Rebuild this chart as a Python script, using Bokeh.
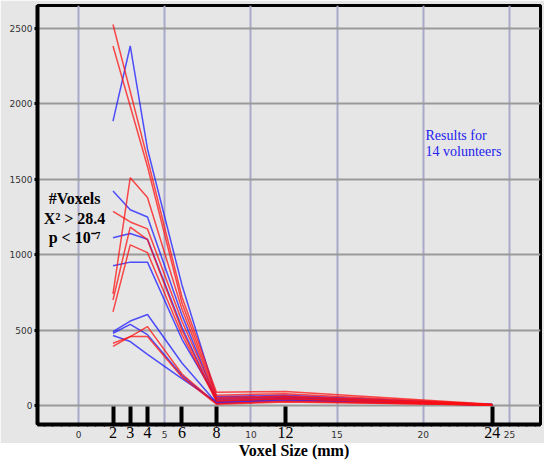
from bokeh.plotting import figure
from bokeh.models import FixedTicker, Label, Range1d, Div, LinearAxis
from bokeh.layouts import column
from bokeh.embed import file_html
from bokeh.resources import INLINE

# ---- data ----
voxel_sizes = [2, 3, 4, 6, 8, 12, 24]

blue_series = [
    [1885, 2382, 1700, 800, 60, 70, 8],
    [1422, 1298, 1250, 600, 40, 55, 6],
    [1112, 1141, 1102, 520, 30, 45, 5],
    [927, 951, 951, 440, 50, 60, 7],
    [491, 561, 604, 283, 20, 40, 4],
    [480, 539, 471, 200, 15, 35, 5],
    [465, 425, 340, 180, 25, 50, 10],
]
red_series = [
    [2524, 2081, 1636, 720, 90, 95, 10],
    [2382, 1983, 1584, 680, 70, 80, 8],
    [1287, 1217, 1171, 560, 45, 60, 6],
    [741, 1510, 1379, 640, 55, 65, 7],
    [700, 1183, 1100, 500, 35, 50, 5],
    [622, 1065, 1014, 470, 30, 45, 4],
    [414, 458, 524, 210, 15, 30, 3],
    [393, 458, 458, 190, 10, 25, 5],
]

size_ticks = [2, 3, 4, 6, 8, 12, 24]
grid_ticks = [0, 5, 10, 15, 20, 25]
y_ticks = [0, 500, 1000, 1500, 2000, 2500]
minor_x = [i * 0.5 for i in range(-4, 54)]

BG = "#e6e6e6"

p = figure(width=544, height=443,
           x_range=Range1d(-2.38, 26.8), y_range=Range1d(-124, 2650),
           output_backend="svg", toolbar_location=None,
           min_border_left=37, min_border_right=4,
           min_border_top=5, min_border_bottom=19)
p.background_fill_color = BG
p.border_fill_color = BG
p.outline_line_color = "black"
p.outline_line_width = 3

# grids
p.xgrid.ticker = FixedTicker(ticks=grid_ticks)
p.xgrid.grid_line_color = "#a9a9c9"
p.xgrid.grid_line_width = 2
p.ygrid.grid_line_color = "#9a9a9a"
p.ygrid.grid_line_width = 2

# x axis: voxel sizes with heavy inward ticks
xa = p.xaxis[0]
xa.ticker = FixedTicker(ticks=size_ticks, minor_ticks=minor_x)
xa.axis_line_width = 4
xa.axis_line_color = "black"
xa.major_tick_in = 18
xa.major_tick_out = 0
xa.major_tick_line_width = 4
xa.minor_tick_in = 0
xa.minor_tick_out = 2
xa.minor_tick_line_width = 1.5
xa.major_label_standoff = 0
xa.major_label_text_font = "Liberation Serif"
xa.major_label_text_font_size = "16px"
xa.major_label_text_color = "black"

# secondary axis with the small 0, 5, ... 25 labels, pulled up beside the sizes
xa2 = LinearAxis(ticker=FixedTicker(ticks=grid_ticks),
                 axis_line_color=None, major_tick_line_color=None,
                 minor_tick_line_color=None,
                 major_tick_in=0, major_tick_out=0,
                 minor_tick_in=0, minor_tick_out=0,
                 major_label_standoff=-10,
                 major_label_text_font="DejaVu Sans",
                 major_label_text_font_size="9px",
                 major_label_text_color="#333333")
p.add_layout(xa2, "below")

# y axis
ya = p.yaxis[0]
ya.ticker = FixedTicker(ticks=y_ticks)
ya.axis_line_width = 4
ya.axis_line_color = "black"
ya.major_tick_in = 0
ya.major_tick_out = 3
ya.major_tick_line_width = 3
ya.minor_tick_line_color = None
ya.major_label_standoff = 2
ya.major_label_text_font = "DejaVu Sans"
ya.major_label_text_font_size = "9px"
ya.major_label_text_color = "#333333"

# series
for vals in blue_series:
    p.line(voxel_sizes, vals, line_color="#1a1aff", line_width=1.5, line_alpha=0.75)
for vals in red_series:
    p.line(voxel_sizes, vals, line_color="#ff1010", line_width=1.5, line_alpha=0.75)

# annotations
for txt, yy in [("#Voxels", 1374), ("X\u00b2 > 28.4", 1237), ("p < 10\u207b\u2077", 1113)]:
    p.add_layout(Label(x=-0.23, y=yy, text=txt, text_align="center",
                       text_baseline="middle", text_font="Liberation Serif",
                       text_font_style="bold", text_font_size="16px",
                       text_color="black"))
for txt, yy in [("Results for", 1787), ("14 volunteers", 1682)]:
    p.add_layout(Label(x=20.13, y=yy, text=txt, text_align="left",
                       text_baseline="middle", text_font="Liberation Serif",
                       text_font_size="14px", text_color="#2222ee"))

title = Div(text='<div style="width:500px;margin-left:44px;text-align:center;'
                 'font-family:\'Liberation Serif\';font-weight:bold;font-size:16px;'
                 'line-height:16px;color:black;">Voxel Size (mm)</div>',
            width=544, height=16, margin=(0, 0, 0, 0))

layout = column(p, title, spacing=0)
open("out.html", "w").write(file_html(layout, INLINE))
